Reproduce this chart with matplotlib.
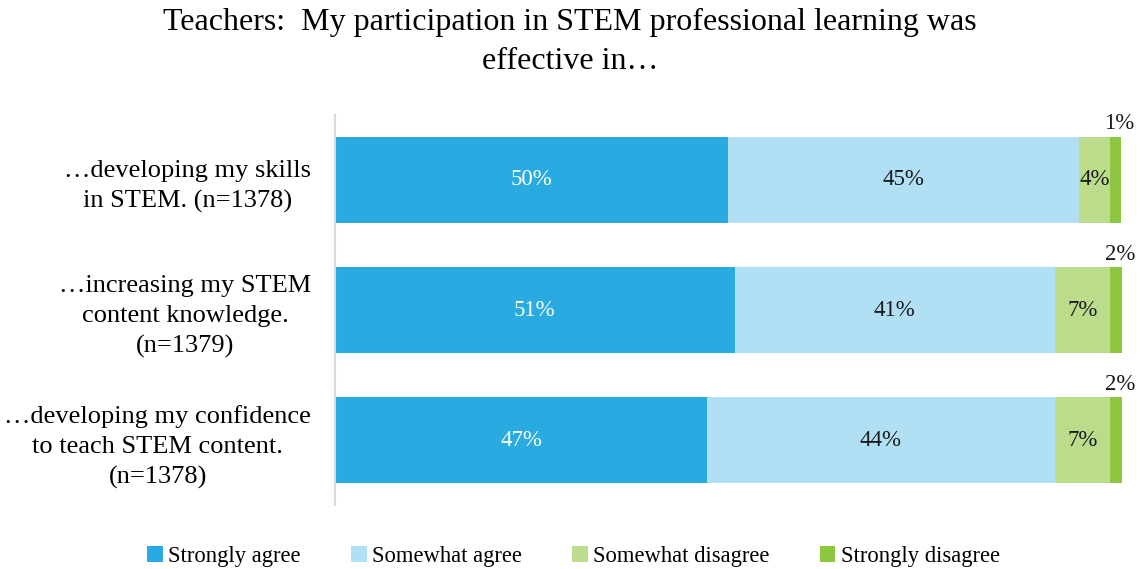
import matplotlib
matplotlib.use("Agg")
import matplotlib.pyplot as plt
import numpy as np

plt.rcParams['font.family'] = ['Liberation Serif', 'DejaVu Serif']

# data
questions = ["\u2026developing my skills\nin STEM. (n=1378)",
             "\u2026increasing my STEM\ncontent knowledge.\n(n=1379)",
             "\u2026developing my confidence\nto teach STEM content.\n(n=1378)"]
series = ["Strongly agree", "Somewhat agree", "Somewhat disagree", "Strongly disagree"]
strongly_agree = [49.9, 50.8, 47.3]
somewhat_agree = [44.7, 40.7, 44.2]
somewhat_disagree = [3.9, 7.0, 7.0]
strongly_disagree = [1.4, 1.5, 1.5]
label_sa = ["50%", "51%", "47%"]
label_wa = ["45%", "41%", "44%"]
label_wd = ["4%", "7%", "7%"]
label_sd = ["1%", "2%", "2%"]

colors = ["#29ABE2", "#B1DFF4", "#BBDD8B", "#8DC63F"]

fig = plt.figure(figsize=(11.47, 5.69), dpi=100)
ax = fig.add_axes([0.292, 0.112, 0.686, 0.686])

y = np.arange(len(questions))
vals = [strongly_agree, somewhat_agree, somewhat_disagree, strongly_disagree]
labels = [label_sa, label_wa, label_wd, label_sd]
left = np.zeros(len(questions))
for i, (v, name, c) in enumerate(zip(vals, series, colors)):
    ax.barh(y, v, left=left, height=0.66, color=c, label=name)
    for j in range(len(questions)):
        if i < 3:
            ax.text(left[j] + v[j] / 2, y[j], labels[i][j], ha='center', va='center',
                    fontsize=16.5, color='white' if i == 0 else '#1a1a1a')
        else:
            ax.text(left[j] + v[j] / 2 + 0.5, y[j] - 0.35, labels[i][j], ha='center',
                    va='bottom', fontsize=16.5, color='#1a1a1a')
    left = left + np.array(v)

ax.set_xlim(0, 100)
ax.set_ylim(2.5, -0.5)
ax.set_yticks(y)
ax.set_yticklabels(questions, fontsize=19, ha='right', multialignment='center',
                   linespacing=1.45)
ax.tick_params(axis='y', length=0, pad=17)
ax.set_xticks([])
for s in ['top', 'right', 'bottom']:
    ax.spines[s].set_visible(False)
ax.spines['left'].set_color('#D9D9D9')
ax.spines['left'].set_linewidth(1.5)

fig.text(0.497, 0.926, "Teachers:  My participation in STEM professional learning was\neffective in\u2026",
         ha='center', va='center', fontsize=23, linespacing=1.45)

fig.legend(loc='lower center', bbox_to_anchor=(0.5, -0.032), ncol=4, frameon=False,
           fontsize=16.3, handlelength=0.7, handleheight=0.7, handletextpad=0.25,
           columnspacing=2.2)

fig.savefig("out.png", dpi=100)
